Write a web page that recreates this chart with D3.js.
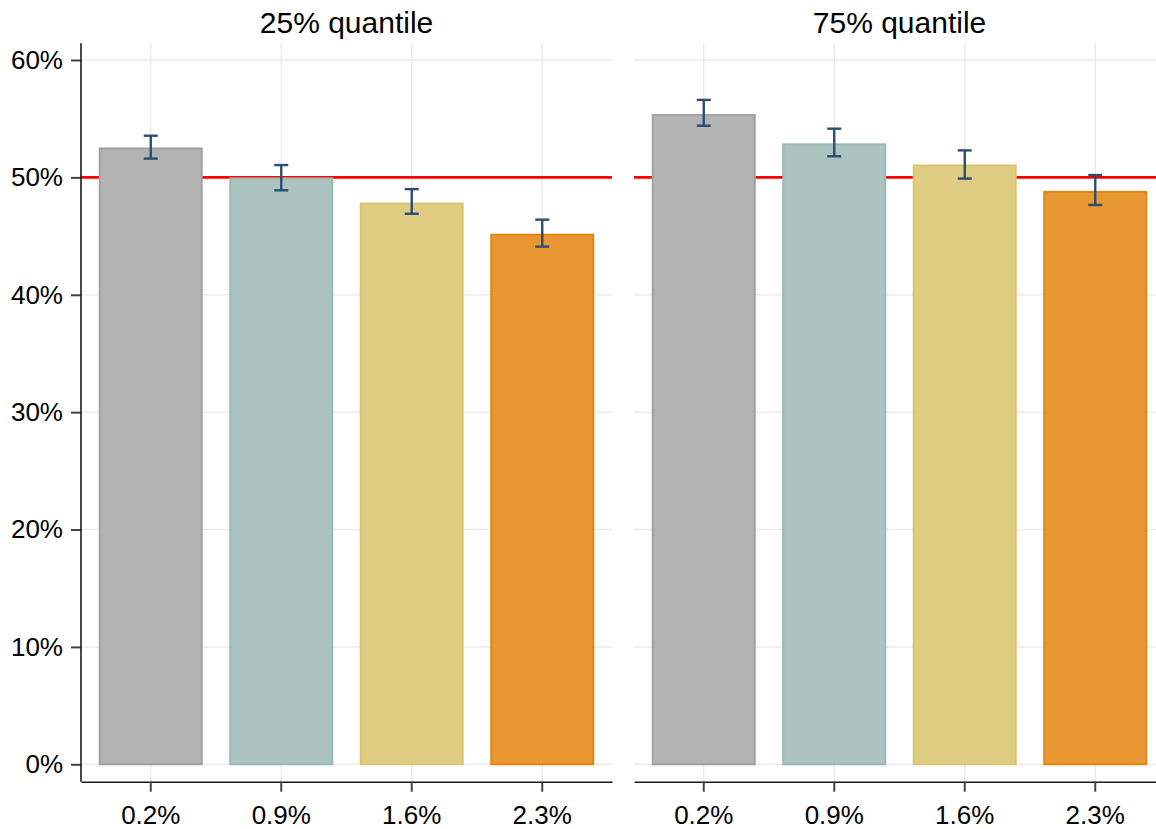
<!DOCTYPE html>
<html>
<head>
<meta charset="utf-8">
<script src="https://cdn.jsdelivr.net/npm/d3@7"></script>
<style>
  html, body { margin: 0; padding: 0; background: #fff; }
  svg { display: block; font-family: "Liberation Sans", Arial, sans-serif; }
</style>
</head>
<body>
<svg id="chart" width="1156" height="829"></svg>
<script>
// Categories along the x axis
const categories = ["0.2%", "0.9%", "1.6%", "2.3%"];
// Panel titles
const panelTitles = ["25% quantile", "75% quantile"];
// Bar values (percent) per panel
const q25Values = [52.55, 50.0, 47.85, 45.2];
const q75Values = [55.4, 52.9, 51.1, 48.85];
// Confidence interval bounds (percent)
const q25Low = [51.6, 48.9, 46.9, 44.1];
const q25High = [53.55, 51.05, 49.0, 46.4];
const q75Low = [54.4, 51.8, 49.9, 47.65];
const q75High = [56.6, 54.15, 52.3, 50.2];
// Y tick values
const yTicks = [0, 10, 20, 30, 40, 50, 60];
// Reference line
const refLine = 50;

const fills = ["#b3b3b3", "#acc4bf", "#e0cd84", "#e99733"];
const strokes = ["#a2a2a2", "#9bb8b1", "#dcc46e", "#e4850f"];

const svg = d3.select("#chart");

const panelW = 531;
const panelTop = 43.3;
const axisY = 781.7;
const panelLefts = [81, 634];

const y = d3.scaleLinear().domain([0, 60]).range([764.3, 60]);
const x = d3.scaleBand().domain(categories).range([0, panelW])
  .paddingInner(0.203).paddingOuter(0.136);

const panels = [
  { title: panelTitles[0], values: q25Values, low: q25Low, high: q25High },
  { title: panelTitles[1], values: q75Values, low: q75Low, high: q75High }
];

panels.forEach((p, pi) => {
  const g = svg.append("g").attr("transform", `translate(${panelLefts[pi]},0)`);

  // gridlines
  g.selectAll("line.hgrid").data(yTicks).join("line")
    .attr("x1", 0).attr("x2", panelW)
    .attr("y1", d => y(d)).attr("y2", d => y(d))
    .attr("stroke", "#ebebeb").attr("stroke-width", 1.5);
  g.selectAll("line.vgrid").data(categories).join("line")
    .attr("x1", d => x(d) + x.bandwidth() / 2).attr("x2", d => x(d) + x.bandwidth() / 2)
    .attr("y1", panelTop).attr("y2", axisY)
    .attr("stroke", "#ebebeb").attr("stroke-width", 1.5);

  // reference line
  g.append("line")
    .attr("x1", 0).attr("x2", panelW)
    .attr("y1", y(refLine)).attr("y2", y(refLine))
    .attr("stroke", "#ff0000").attr("stroke-width", 2.8);

  // bars
  g.selectAll("rect.bar").data(p.values).join("rect")
    .attr("x", (d, i) => x(categories[i]) + 1)
    .attr("width", x.bandwidth() - 2)
    .attr("y", d => y(d) + 1)
    .attr("height", d => y(0) - y(d) - 1)
    .attr("fill", (d, i) => fills[i])
    .attr("stroke", (d, i) => strokes[i])
    .attr("stroke-width", 2);

  // error bars
  const eb = g.selectAll("g.err").data(p.values.map((v, i) => ({ i, lo: p.low[i], hi: p.high[i] })))
    .join("g")
    .attr("stroke", "#2b4d70").attr("stroke-width", 2.4);
  const cx = d => x(categories[d.i]) + x.bandwidth() / 2;
  eb.append("line").attr("x1", cx).attr("x2", cx)
    .attr("y1", d => y(d.hi)).attr("y2", d => y(d.lo));
  eb.append("line").attr("x1", d => cx(d) - 7).attr("x2", d => cx(d) + 7)
    .attr("y1", d => y(d.hi)).attr("y2", d => y(d.hi));
  eb.append("line").attr("x1", d => cx(d) - 7).attr("x2", d => cx(d) + 7)
    .attr("y1", d => y(d.lo)).attr("y2", d => y(d.lo));

  // x axis
  const xAxis = d3.axisBottom(x).tickSize(10).tickPadding(14).tickSizeOuter(0);
  const xg = g.append("g").attr("transform", `translate(0,${axisY})`).call(xAxis);
  xg.select(".domain").attr("stroke", "#1a1a1a").attr("stroke-width", 1.6);
  xg.selectAll(".tick line").attr("stroke", "#444").attr("stroke-width", 2);
  xg.selectAll(".tick text").attr("font-size", 26).attr("fill", "#000")
    .attr("font-family", "Liberation Sans, Arial, sans-serif");

  // y axis on the first panel
  if (pi === 0) {
    const yAxis = d3.axisLeft(y).tickValues(yTicks).tickFormat(d => d + "%")
      .tickSize(10).tickPadding(8).tickSizeOuter(0);
    const yg = g.append("g").call(yAxis);
    yg.select(".domain").remove();
    yg.append("line").attr("x1", 0).attr("x2", 0).attr("y1", panelTop).attr("y2", axisY)
      .attr("stroke", "#1a1a1a").attr("stroke-width", 1.6);
    yg.selectAll(".tick line").attr("stroke", "#444").attr("stroke-width", 2);
    yg.selectAll(".tick text").attr("font-size", 26).attr("fill", "#000")
      .attr("font-family", "Liberation Sans, Arial, sans-serif");
  }

  // panel title
  g.append("text")
    .attr("x", panelW / 2).attr("y", 33)
    .attr("text-anchor", "middle")
    .attr("font-size", 30).attr("fill", "#000")
    .text(p.title);
});
</script>
</body>
</html>
